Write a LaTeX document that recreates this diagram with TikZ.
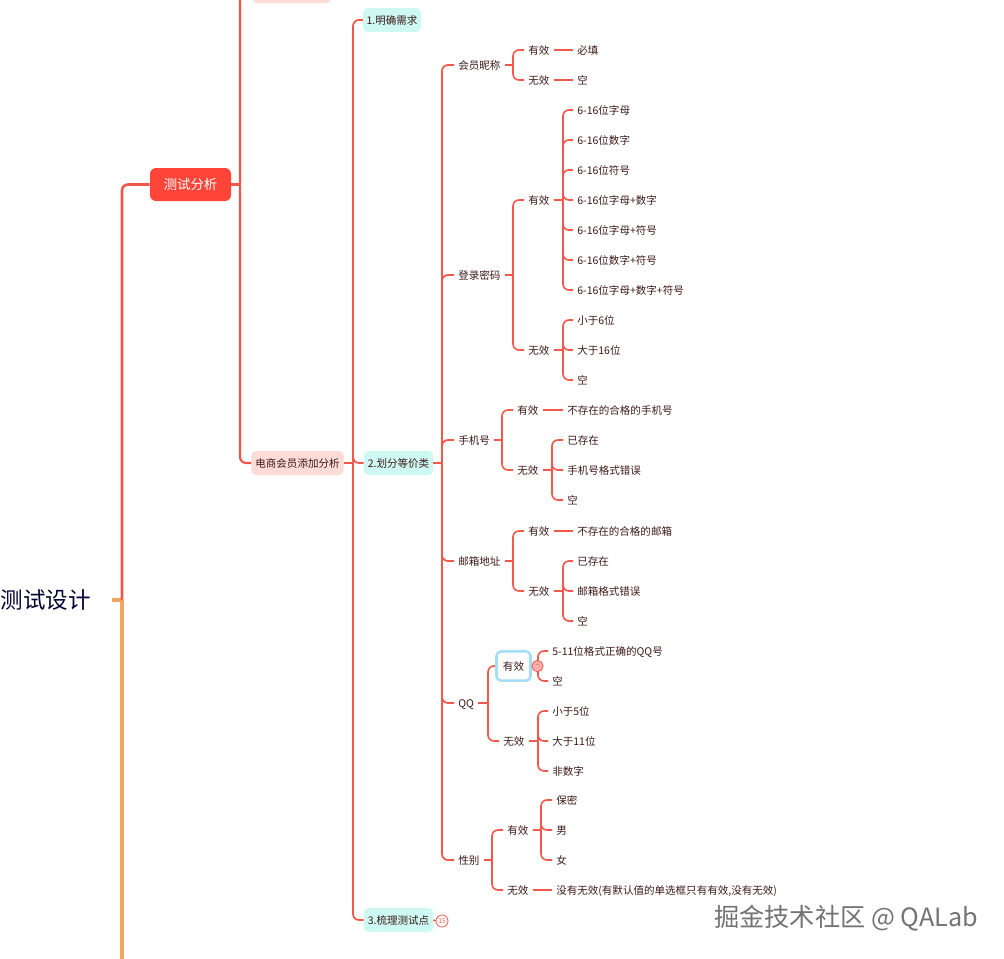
\documentclass[tikz,border=0pt]{standalone}
\usepackage{fontspec}
\setmainfont{Noto Sans CJK SC}
\definecolor{linkred}{HTML}{F2584B}
\definecolor{mainred}{HTML}{F0574B}
\definecolor{mainorange}{HTML}{F4A560}
\definecolor{boxred}{HTML}{FF4438}
\definecolor{pinkbox}{HTML}{FDDCD8}
\definecolor{mintbox}{HTML}{CDF9F2}
\definecolor{inktext}{HTML}{3C1A18}
\definecolor{selblue}{HTML}{A4DDF8}
\tikzset{
  leaf/.style={anchor=west,inner xsep=3pt,inner ysep=0pt,text height=6.8pt,text depth=0.6pt,font=\fontsize{7.9pt}{9pt}\selectfont,text=inktext},
  pinknode/.style={leaf,anchor=center,fill=pinkbox,rounded corners=3.5pt,minimum height=18pt,inner xsep=3pt},
  mintnode/.style={leaf,anchor=center,fill=mintbox,rounded corners=3.5pt,minimum height=18pt,inner xsep=3pt},
  link/.style={draw=linkred,line width=1.2pt,line join=round},
  mainlink/.style={draw=mainred,line width=1.9pt},
  orangelink/.style={draw=mainorange,line width=2.6pt},
  biglink/.style={draw=mainred,line width=1.6pt},
  midlink/.style={draw=linkred,line width=1.3pt}
}
\newcommand{\lnk}[4][link]{%
  \coordinate (sp) at (#4,0);
  \draw[#1] (#2.east) -- (#2.east -| sp);
  \draw[#1,rounded corners=4.5pt] (#2.east -| sp) -- (#3.west -| sp) -- (#3.west);
}
\newcommand{\straight}[2]{\draw[link] (#1.east) -- (#2.west);}
\newcommand{\T}[4]{\node[leaf] (#1) at (#2-4,#3) {#4};}
\begin{document}
\begin{tikzpicture}[x=0.75pt,y=-0.75pt]
\useasboundingbox (0,0) rectangle (1004,958);
\fill[white] (0,0) rectangle (1004,958);
\clip (0,0) rectangle (1004,958);
% root
\node[anchor=east,inner xsep=15.75pt,inner ysep=0pt,font=\fontsize{16.9pt}{20pt}\selectfont,text=black!80!blue] (root) at (112,600) {测试设计};
\coordinate (rootj) at (122,600);
\coordinate (bottomend) at (122,975);
% upper levels
\node[anchor=center,fill=boxred,rounded corners=4.5pt,minimum width=60.75pt,minimum height=24.75pt,inner sep=0pt,text=white,text depth=0.5pt,text height=8pt,font=\fontsize{10pt}{12pt}\selectfont] (ta) at (190.5,184.5) {测试分析};
\node[pinknode,minimum width=59pt] (tp) at (291.5,-9) {};
\node[pinknode] (ec) at (297.5,463) {电商会员添加分析};
\node[mintnode,inner xsep=2.5pt] (m1) at (392,20) {1.明确需求};
\node[mintnode] (m2) at (398.5,463) {2.划分等价类};
\node[mintnode] (m3) at (398.5,920) {3.梳理测试点};
% level 3
\T{a1}{458}{65}{会员昵称}
\T{a2}{458}{275}{登录密码}
\T{a3}{458}{440}{手机号}
\T{a4}{458}{561}{邮箱地址}
\T{a5}{458}{703}{QQ}
\T{a6}{458}{860}{性别}
% 会员昵称
\T{a1y}{528}{50}{有效}
\T{a1n}{528}{80}{无效}
\T{a1ya}{577}{50}{必填}
\T{a1na}{577}{80}{空}
% 登录密码
\T{a2y}{528}{200}{有效}
\T{a2n}{528}{350}{无效}
\T{p1}{577}{110}{6-16位字母}
\T{p2}{577}{140}{6-16位数字}
\T{p3}{577}{170}{6-16位符号}
\T{p4}{577}{200}{6-16位字母+数字}
\T{p5}{577}{230}{6-16位字母+符号}
\T{p6}{577}{260}{6-16位数字+符号}
\T{p7}{577}{290}{6-16位字母+数字+符号}
\T{q1}{577}{320}{小于6位}
\T{q2}{577}{350}{大于16位}
\T{q3}{577}{380}{空}
% 手机号
\T{a3y}{517}{410}{有效}
\T{a3n}{517}{470}{无效}
\T{r0}{567}{410}{不存在的合格的手机号}
\T{r1}{567}{440}{已存在}
\T{r2}{567}{470}{手机号格式错误}
\T{r3}{567}{500}{空}
% 邮箱地址
\T{a4y}{528}{531}{有效}
\T{a4n}{528}{591}{无效}
\T{s0}{577}{531}{不存在的合格的邮箱}
\T{s1}{577}{561}{已存在}
\T{s2}{577}{591}{邮箱格式错误}
\T{s3}{577}{621}{空}
% QQ
\node[anchor=center,draw=selblue,line width=1.9pt,fill=white,rounded corners=3.5pt,minimum width=25.5pt,minimum height=22pt,inner sep=0pt,font=\fontsize{7.9pt}{9pt}\selectfont,text=inktext] (a5y) at (513.5,666) {有效};
\T{a5n}{503}{741}{无效}
\T{t1}{552}{651}{5-11位格式正确的QQ号}
\T{t2}{552}{681}{空}
\T{u1}{552}{711}{小于5位}
\T{u2}{552}{741}{大于11位}
\T{u3}{552}{771}{非数字}
% 性别
\T{a6y}{507}{830}{有效}
\T{a6n}{507}{890}{无效}
\T{v1}{556}{800}{保密}
\T{v2}{556}{830}{男}
\T{v3}{556}{860}{女}
\T{v4}{556}{890}{没有无效(有默认值的单选框只有有效,没有无效)}
% main spine
\draw[orangelink] (root.east) -- (rootj);
\draw[orangelink] (rootj) -- (bottomend);
\draw[mainlink,rounded corners=4.5pt] (rootj) |- (ta.west);
\lnk[biglink]{ta}{tp}{240}
\lnk[biglink]{ta}{ec}{240}
\lnk[midlink]{ec}{m1}{353}
\lnk[midlink]{ec}{m2}{353}
\lnk[midlink]{ec}{m3}{353}
\foreach \c in {a1,a2,a3,a4,a5,a6}{\lnk[midlink]{m2}{\c}{442}}
\foreach \c in {a1y,a1n}{\lnk{a1}{\c}{513}}
\straight{a1y}{a1ya}
\straight{a1n}{a1na}
\foreach \c in {a2y,a2n}{\lnk{a2}{\c}{513}}
\foreach \c in {p1,p2,p3,p4,p5,p6,p7}{\lnk{a2y}{\c}{563}}
\foreach \c in {q1,q2,q3}{\lnk{a2n}{\c}{563}}
\foreach \c in {a3y,a3n}{\lnk{a3}{\c}{502}}
\straight{a3y}{r0}
\foreach \c in {r1,r2,r3}{\lnk{a3n}{\c}{552}}
\foreach \c in {a4y,a4n}{\lnk{a4}{\c}{513}}
\straight{a4y}{s0}
\foreach \c in {s1,s2,s3}{\lnk{a4n}{\c}{563}}
\foreach \c in {a5y,a5n}{\lnk{a5}{\c}{488}}
\foreach \c in {t1,t2}{\lnk{a5y}{\c}{538}}
\foreach \c in {u1,u2,u3}{\lnk{a5n}{\c}{538}}
\foreach \c in {a6y,a6n}{\lnk{a6}{\c}{492}}
\foreach \c in {v1,v2,v3}{\lnk{a6y}{\c}{541}}
\straight{a6n}{v4}
% collapse markers
\node[circle,draw=linkred,line width=.6pt,fill=pinkbox!80!red,minimum size=8.5pt,inner sep=0pt,font=\fontsize{6pt}{6pt}\selectfont,text=linkred] (minus) at (537.5,666) {--};
\node[circle,draw=linkred,line width=.6pt,fill=white,minimum size=9pt,inner sep=0pt,font=\fontsize{5pt}{5pt}\selectfont,text=linkred] (cnt) at (442,921) {15};
\draw[link] (m3.east) -- (cnt.west);
% watermark
\node[anchor=west,inner sep=0pt,font=\fontsize{18.9pt}{22pt}\selectfont,text=black!55] (wm) at (714,918) {掘金技术社区 @ QALab};
\end{tikzpicture}
\end{document}
